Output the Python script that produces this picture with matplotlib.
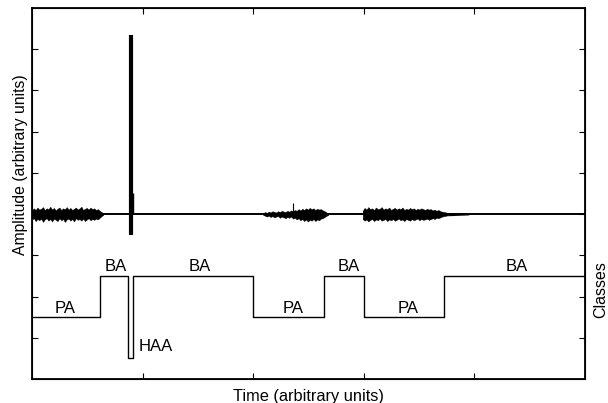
import numpy as np
import matplotlib
matplotlib.use('Agg')
import matplotlib.pyplot as plt

plt.rcParams['font.family'] = ['Liberation Sans', 'DejaVu Sans']

# class sequence (time in arbitrary units, level on the amplitude scale)
class_edges = [0.0, 0.615, 0.868, 0.913, 2.0, 2.64, 3.0, 3.725, 5.0]
class_names = ['PA', 'BA', 'HAA', 'BA', 'PA', 'BA', 'PA', 'BA']
class_level = {'HAA': 0.5, 'PA': 1.5, 'BA': 2.5}
label_x = [0.30, 0.76, 1.12, 1.52, 2.36, 2.86, 3.40, 4.38]
label_y = [1.72, 2.74, 0.80, 2.74, 1.72, 2.74, 1.72, 2.74]

baseline = 4.0

# envelopes of the noisy bursts, read at even steps between start and end
# (offsets above / below the baseline)
burst1_span = (0.0, 0.645)
burst1_up = [0.09, 0.14, 0.10, 0.16, 0.11, 0.13, 0.17, 0.10, 0.14, 0.12,
             0.18, 0.11, 0.15, 0.09, 0.13, 0.16, 0.10, 0.14, 0.12, 0.17,
             0.11, 0.15, 0.10, 0.13, 0.16, 0.11, 0.14, 0.18, 0.10, 0.13,
             0.15, 0.11, 0.16, 0.12, 0.14, 0.10, 0.12, 0.08, 0.05, 0.02]
burst1_lo = [0.13, 0.10, 0.17, 0.12, 0.15, 0.11, 0.19, 0.13, 0.10, 0.16,
             0.12, 0.18, 0.11, 0.14, 0.17, 0.10, 0.15, 0.12, 0.19, 0.13,
             0.11, 0.16, 0.12, 0.18, 0.10, 0.14, 0.12, 0.16, 0.11, 0.17,
             0.13, 0.10, 0.15, 0.12, 0.14, 0.11, 0.13, 0.09, 0.05, 0.02]

burst2_span = (2.09, 2.68)
burst2_up = [0.02, 0.05, 0.03, 0.06, 0.04, 0.07, 0.05, 0.04, 0.07, 0.05,
             0.08, 0.06, 0.05, 0.08, 0.06, 0.09, 0.07, 0.10, 0.08, 0.12,
             0.09, 0.13, 0.10, 0.14, 0.11, 0.15, 0.12, 0.14, 0.10, 0.13,
             0.11, 0.12, 0.09, 0.07, 0.04, 0.02]
burst2_lo = [0.02, 0.04, 0.06, 0.04, 0.07, 0.05, 0.08, 0.06, 0.05, 0.09,
             0.06, 0.08, 0.10, 0.07, 0.09, 0.06, 0.11, 0.09, 0.13, 0.10,
             0.15, 0.12, 0.17, 0.13, 0.18, 0.14, 0.16, 0.12, 0.17, 0.13,
             0.15, 0.11, 0.10, 0.07, 0.04, 0.02]

burst3_span = (2.99, 3.76)
burst3_up = [0.08, 0.15, 0.11, 0.17, 0.12, 0.14, 0.10, 0.16, 0.12, 0.13,
             0.17, 0.11, 0.14, 0.12, 0.16, 0.10, 0.13, 0.15, 0.11, 0.14,
             0.12, 0.16, 0.10, 0.13, 0.11, 0.15, 0.12, 0.14, 0.10, 0.13,
             0.11, 0.14, 0.12, 0.10, 0.13, 0.11, 0.12, 0.09, 0.11, 0.08,
             0.10, 0.07, 0.06, 0.05, 0.04, 0.03]
burst3_lo = [0.12, 0.16, 0.13, 0.18, 0.14, 0.12, 0.17, 0.13, 0.15, 0.11,
             0.16, 0.14, 0.12, 0.17, 0.13, 0.15, 0.12, 0.16, 0.14, 0.11,
             0.15, 0.13, 0.17, 0.12, 0.14, 0.16, 0.12, 0.15, 0.13, 0.11,
             0.15, 0.12, 0.14, 0.13, 0.11, 0.14, 0.12, 0.10, 0.12, 0.09,
             0.10, 0.08, 0.06, 0.05, 0.04, 0.03]

tail_t = [3.76, 3.85, 3.95]
tail_half = [0.04, 0.03, 0.02]

# impulses: time, bottom, top, line width
spike_t = [0.895, 0.913, 2.36]
spike_lo = [3.50, 4.00, 4.00]
spike_hi = [8.35, 4.51, 4.27]
spike_lw = [3.0, 1.0, 0.8]

fig = plt.figure(figsize=(6.08, 4.03), dpi=100)
ax = fig.add_axes([0.0526, 0.0596, 0.9096, 0.9206])

# quiet baseline
ax.plot([0, 5], [baseline, baseline], color='black', lw=1.4)

for span, up, lo in [(burst1_span, burst1_up, burst1_lo),
                     (burst2_span, burst2_up, burst2_lo),
                     (burst3_span, burst3_up, burst3_lo)]:
    t = np.linspace(span[0], span[1], len(up))
    ax.fill_between(t, baseline + np.array(up), baseline - np.array(lo),
                    color='black', lw=0.3)
ax.fill_between(tail_t, baseline + np.array(tail_half), baseline - np.array(tail_half),
                color='black', lw=0)

for t, lo, hi, w in zip(spike_t, spike_lo, spike_hi, spike_lw):
    ax.plot([t, t], [lo, hi], color='black', lw=w, solid_capstyle='butt')

# class trace
levels = [class_level[c] for c in class_names]
ax.step(class_edges, levels + [levels[-1]], where='post', color='black', lw=1.0)
for x, y, name in zip(label_x, label_y, class_names):
    ax.text(x, y, name, fontsize=12, ha='center', va='center')

ax.set_xlim(0, 5)
ax.set_ylim(0, 9)
ax.set_xticks([1, 2, 3, 4])
ax.set_yticks(range(1, 9))
ax.set_xticklabels([])
ax.set_yticklabels([])
ax.tick_params(direction='in', length=4, width=0.8, top=True)
for s in ax.spines.values():
    s.set_linewidth(1.3)

ax.set_xlabel('Time (arbitrary units)', fontsize=11.8, labelpad=4)
ax.set_ylabel('Amplitude (arbitrary units)', fontsize=11.3)
ax.yaxis.set_label_coords(-0.008, 0.577)

ax2 = ax.twinx()
ax2.set_ylim(0, 9)
ax2.set_yticks(range(1, 9))
ax2.set_yticklabels([])
ax2.tick_params(direction='in', length=4, width=0.8)
ax2.set_ylabel('Classes', fontsize=11.5)
ax2.yaxis.set_label_coords(1.0145, 0.24)

fig.savefig('out.png', dpi=100)
